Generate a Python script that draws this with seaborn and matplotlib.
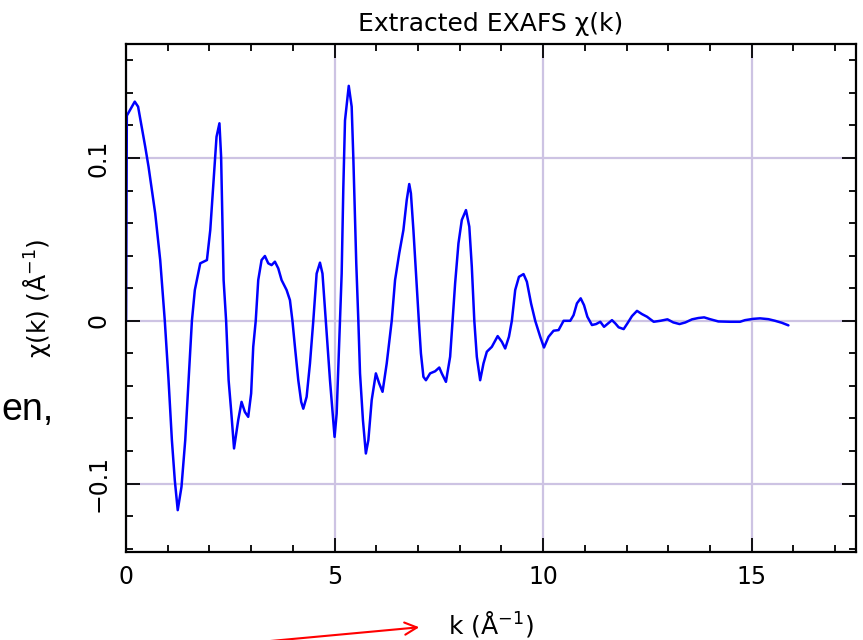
import matplotlib
matplotlib.use("Agg")
import matplotlib.pyplot as plt
import seaborn as sns
import pandas as pd
from matplotlib.ticker import MultipleLocator

# ---- data ----
k_values = [0.0, 0.02, 0.21, 0.29, 0.46, 0.54, 0.70, 0.82, 0.93, 1.02,
            1.10, 1.17, 1.24, 1.33, 1.42, 1.50, 1.58, 1.65, 1.78, 1.94,
            2.02, 2.10, 2.17, 2.24, 2.28, 2.34, 2.40, 2.46, 2.52, 2.59,
            2.69, 2.77, 2.85, 2.93, 3.00, 3.05, 3.11, 3.17, 3.25, 3.33,
            3.41, 3.49, 3.57, 3.65, 3.73, 3.85, 3.93, 3.99, 4.05, 4.13,
            4.20, 4.25, 4.33, 4.41, 4.49, 4.57, 4.65, 4.71, 4.79, 4.89,
            5.00, 5.05, 5.13, 5.17, 5.21, 5.25, 5.34, 5.41, 5.45, 5.52,
            5.57, 5.61, 5.68, 5.75, 5.81, 5.89, 5.99, 6.07, 6.15, 6.25,
            6.37, 6.45, 6.55, 6.65, 6.73, 6.79, 6.83, 6.89, 6.97, 7.02,
            7.07, 7.13, 7.19, 7.29, 7.41, 7.51, 7.57, 7.67, 7.77, 7.83,
            7.89, 7.97, 8.05, 8.15, 8.23, 8.29, 8.35, 8.41, 8.49, 8.57,
            8.65, 8.77, 8.91, 9.01, 9.09, 9.18, 9.25, 9.33, 9.42, 9.53,
            9.61, 9.71, 9.81, 9.93, 10.02, 10.13, 10.25, 10.37, 10.49, 10.65,
            10.73, 10.81, 10.90, 10.98, 11.06, 11.17, 11.27, 11.37, 11.46, 11.54,
            11.65, 11.73, 11.81, 11.93, 12.02, 12.13, 12.25, 12.37, 12.49, 12.65,
            12.81, 12.98, 13.12, 13.27, 13.41, 13.57, 13.72, 13.86, 14.00, 14.20,
            14.48, 14.72, 14.84, 15.04, 15.20, 15.40, 15.56, 15.72, 15.88]

chi_values = [0.0, 0.126, 0.1346, 0.1315, 0.107, 0.0947, 0.066, 0.0373, 0.0, -0.0365,
              -0.0733, -0.098, -0.1163, -0.102, -0.0733, -0.0365, 0.0, 0.0189, 0.0353, 0.0373,
              0.0557, 0.0865, 0.113, 0.1213, 0.1008, 0.025, 0.0, -0.0365, -0.055, -0.0784,
              -0.061, -0.0498, -0.056, -0.059, -0.0446, -0.016, 0.0, 0.025, 0.0373, 0.0398,
              0.0353, 0.0342, 0.0363, 0.0322, 0.025, 0.0189, 0.0127, 0.0, -0.016, -0.0365,
              -0.0498, -0.054, -0.0467, -0.0262, 0.0, 0.029, 0.0357, 0.029, 0.0, -0.0365,
              -0.0713, -0.057, 0.0, 0.029, 0.082, 0.123, 0.1443, 0.1315, 0.0998, 0.0353,
              0.0, -0.0323, -0.061, -0.0815, -0.0733, -0.0487, -0.0323, -0.0385, -0.0436, -0.0262,
              0.0, 0.025, 0.0414, 0.0557, 0.0742, 0.084, 0.0783, 0.0557, 0.0209, 0.0,
              -0.02, -0.0344, -0.0365, -0.0323, -0.031, -0.0287, -0.0323, -0.0375, -0.0221, 0.0,
              0.023, 0.0476, 0.0619, 0.068, 0.0578, 0.0332, 0.0, -0.0221, -0.0365, -0.0262,
              -0.019, -0.016, -0.0094, -0.0129, -0.017, -0.0098, 0.0, 0.0189, 0.027, 0.0287,
              0.024, 0.0107, 0.0, -0.0098, -0.0164, -0.0098, -0.0061, -0.0057, 0.0, 0.0,
              0.0035, 0.0107, 0.0138, 0.0096, 0.0025, -0.0026, -0.002, -0.0006, -0.0037, -0.002,
              0.0004, -0.0016, -0.004, -0.0051, -0.0016, 0.0029, 0.0061, 0.0041, 0.0025, -0.0006,
              0.0, 0.0009, -0.001, -0.002, -0.001, 0.0009, 0.0017, 0.0021, 0.001, -0.0004,
              -0.0006, -0.0006, 0.0004, 0.0012, 0.0015, 0.001, 0.0, -0.0012, -0.0028]

x_ticks = [0, 5, 10, 15]
x_tick_labels = ["0", "5", "10", "15"]
y_ticks = [-0.1, 0.0, 0.1]
y_tick_labels = ["\u22120.1", "0", "0.1"]

title_text = "Extracted EXAFS \u03c7(k)"
x_label = "k (\u00c5$^{-1}$)"
y_label = "\u03c7(k) (\u00c5$^{-1}$)"
side_text = "en,"

assert len(k_values) == len(chi_values)
df = pd.DataFrame({"k": k_values, "chi": chi_values})

# ---- style ----
sns.set_theme(style="ticks")
plt.rcParams["font.family"] = ["DejaVu Sans"]
plt.rcParams["text.color"] = "black"
plt.rcParams["axes.labelcolor"] = "black"
plt.rcParams["xtick.color"] = "black"
plt.rcParams["ytick.color"] = "black"

fig = plt.figure(figsize=(8.63, 6.40), dpi=100)
fig.patch.set_facecolor("white")
ax = fig.add_axes([126 / 863, 1 - 552 / 640, 730 / 863, 508 / 640])
ax.set_facecolor("white")

grid_color = "#cdc3e3"
ax.set_axisbelow(True)
ax.grid(True, which="major", color=grid_color, linewidth=1.6)

sns.lineplot(data=df, x="k", y="chi", ax=ax, color="#0000ff", linewidth=1.8,
             estimator=None, sort=False)

ax.set_xlim(0, 17.5)
ax.set_ylim(-0.142, 0.170)

ax.set_xticks(x_ticks)
ax.set_xticklabels(x_tick_labels)
ax.set_yticks(y_ticks)
ax.set_yticklabels(y_tick_labels, rotation=90, va="center")
ax.xaxis.set_minor_locator(MultipleLocator(1))
ax.yaxis.set_minor_locator(MultipleLocator(0.02))

ax.tick_params(which="both", direction="in", top=True, right=True,
               color="black", width=1.3, labelcolor="black")
ax.tick_params(which="major", length=10)
ax.tick_params(which="minor", length=5)
ax.tick_params(axis="x", which="major", labelsize=17, pad=9)
ax.tick_params(axis="y", which="major", labelsize=17, pad=11)

for s in ax.spines.values():
    s.set_color("black")
    s.set_linewidth(1.6)

ax.set_title(title_text, fontsize=18, pad=9, color="black")
ax.set_xlabel(x_label, fontsize=18, color="black")
ax.set_ylabel(y_label, fontsize=18, color="black")
ax.xaxis.set_label_coords(0.5, -0.112)
ax.yaxis.set_label_coords(-0.100, 0.5)

# slide artefacts around the chart
fig.text(1 / 863, 1 - 420 / 640, side_text, ha="left", va="baseline",
         fontsize=27, color="black", family=["Liberation Sans", "DejaVu Sans"])
ax.annotate("", xy=(422, 640 - 627), xytext=(238, -4),
            xycoords="figure pixels", textcoords="figure pixels",
            annotation_clip=False,
            arrowprops=dict(arrowstyle="->", color="red", lw=1.5,
                            mutation_scale=22))

fig.savefig("out.png", dpi=100, facecolor="white")
